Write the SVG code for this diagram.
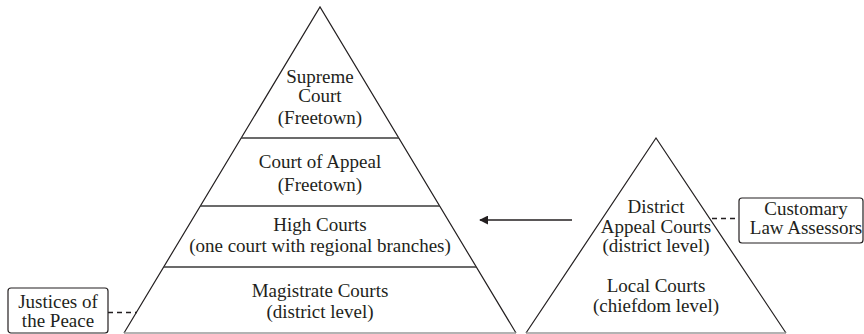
<svg xmlns="http://www.w3.org/2000/svg" width="864" height="334" viewBox="0 0 864 334">
<style>
text{font-family:"Liberation Serif","Times New Roman",serif;font-size:19px;fill:#231f20;text-anchor:middle}
.edge{fill:none;stroke:#231f20;stroke-width:1.2}
.tier{stroke:#3a3a3a;stroke-width:1.3}
.base{stroke:#9a9a9a;stroke-width:1.5}
.box{fill:#fff;stroke:#231f20;stroke-width:1.2}
.dash{stroke:#231f20;stroke-width:1.3;stroke-dasharray:5 4;fill:none}
.arrow{stroke:#231f20;stroke-width:1.5;fill:none}
</style>
<defs>
<marker id="ah" viewBox="0 0 10 10" refX="9" refY="5" markerWidth="9" markerHeight="9" markerUnits="userSpaceOnUse" orient="auto">
<path d="M0,0 L10,5 L0,10 Z" fill="#231f20"/>
</marker>
</defs>
<g id="formal-pyramid">
<polyline class="edge" points="124,333 320,7 516,333"/>
<line class="tier" x1="241" y1="138" x2="399" y2="138"/>
<line class="tier" x1="200" y1="206" x2="440" y2="206"/>
<line class="tier" x1="164" y1="267" x2="476" y2="267"/>
<line class="base" x1="124" y1="333" x2="516" y2="333"/>
</g>
<g id="supreme-court">
<text x="320" y="83">Supreme</text>
<text x="320" y="102">Court</text>
<text x="320" y="124">(Freetown)</text>
</g>
<g id="court-of-appeal">
<text x="320" y="168">Court of Appeal</text>
<text x="320" y="191">(Freetown)</text>
</g>
<g id="high-courts">
<text x="320" y="231">High Courts</text>
<text x="320" y="252">(one court with regional branches)</text>
</g>
<g id="magistrate-courts">
<text x="320" y="297">Magistrate Courts</text>
<text x="320" y="318">(district level)</text>
</g>
<g id="customary-pyramid">
<polyline class="edge" points="526,333 656,138 786,333"/>
<line class="base" x1="526" y1="333" x2="786" y2="333"/>
</g>
<g id="district-appeal-courts">
<text x="656" y="213">District</text>
<text x="656" y="233">Appeal Courts</text>
<text x="656" y="252">(district level)</text>
</g>
<g id="local-courts">
<text x="656" y="292">Local Courts</text>
<text x="656" y="312">(chiefdom level)</text>
</g>
<g id="customary-law-assessors">
<rect class="box" x="739" y="198" width="124" height="45" rx="3"/>
<text x="806" y="215">Customary</text>
<text x="806" y="234">Law Assessors</text>
</g>
<g id="justices-of-the-peace">
<rect class="box" x="8" y="288" width="100" height="45" rx="3"/>
<text x="58" y="308">Justices of</text>
<text x="58" y="327">the Peace</text>
</g>
<g id="connectors">
<line class="arrow" x1="572" y1="220" x2="480" y2="220" marker-end="url(#ah)"/>
<line class="dash" x1="108" y1="312.5" x2="137" y2="312.5"/>
<line class="dash" x1="712" y1="218.5" x2="739" y2="218.5"/>
</g>
</svg>
